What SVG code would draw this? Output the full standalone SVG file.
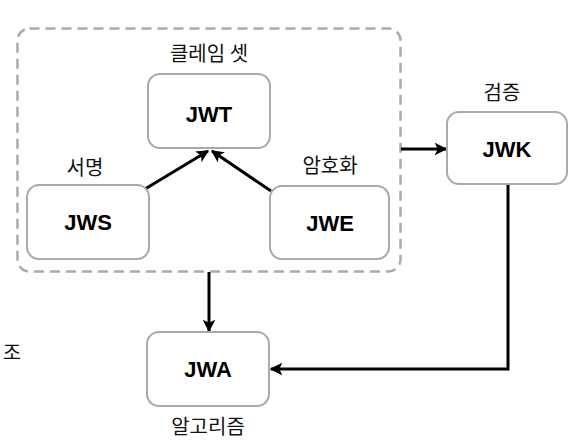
<svg xmlns="http://www.w3.org/2000/svg" width="579" height="443" viewBox="0 0 579 443">
<defs>
<style>
.box{fill:#fff;stroke:#aaa;stroke-width:2}
.nt{font-family:"Liberation Sans",Arial,sans-serif;font-weight:bold;font-size:22px;fill:#000;text-anchor:middle;dominant-baseline:central}
.lb{font-family:"Noto Sans CJK KR",sans-serif;font-size:20px;fill:#111;text-anchor:middle;dominant-baseline:central}
.ln{fill:none;stroke:#000;stroke-width:3}
</style>
<marker id="ah" viewBox="0 0 10 10" refX="9" refY="5" markerWidth="4.2" markerHeight="4.2" orient="auto" markerUnits="strokeWidth">
<path d="M0,0 L10,5 L0,10 L2.5,5 Z" fill="#000"/>
</marker>
</defs>
<rect width="579" height="443" fill="#fff"/>
<g id="claimset">
<rect x="17.5" y="28.5" width="383" height="243" rx="12" fill="none" stroke="#aaa" stroke-width="2.5" stroke-dasharray="10 6"/>
<text class="lb" x="209" y="52">클레임 셋</text>
</g>
<g id="connectors">
<line class="ln" x1="145" y1="189" x2="208" y2="151" marker-end="url(#ah)"/>
<line class="ln" x1="271" y1="191" x2="212" y2="151" marker-end="url(#ah)"/>
<line class="ln" x1="401" y1="149" x2="446" y2="149" marker-end="url(#ah)"/>
<line class="ln" x1="209" y1="272" x2="209" y2="331" marker-end="url(#ah)"/>
<polyline class="ln" points="508,184 508,369 271,369" marker-end="url(#ah)"/>
</g>
<g id="jwt">
<rect class="box" x="148" y="74" width="122" height="74" rx="12"/>
<text class="nt" x="209" y="114">JWT</text>
</g>
<g id="jws">
<rect class="box" x="27" y="185" width="122" height="74" rx="12"/>
<text class="nt" x="88" y="222">JWS</text>
<text class="lb" x="85" y="166">서명</text>
</g>
<g id="jwe">
<rect class="box" x="270" y="186" width="119" height="73" rx="12"/>
<text class="nt" x="330" y="223">JWE</text>
<text class="lb" x="330" y="164">암호화</text>
</g>
<g id="jwk">
<rect class="box" x="447" y="112" width="120" height="72" rx="12"/>
<text class="nt" x="507" y="149">JWK</text>
<text class="lb" x="502" y="91">검증</text>
</g>
<g id="jwa">
<rect class="box" x="147" y="332" width="122" height="74" rx="12"/>
<text class="nt" x="208" y="369">JWA</text>
<text class="lb" x="208" y="425">알고리즘</text>
</g>
<text class="lb" x="12" y="351">조</text>
</svg>
